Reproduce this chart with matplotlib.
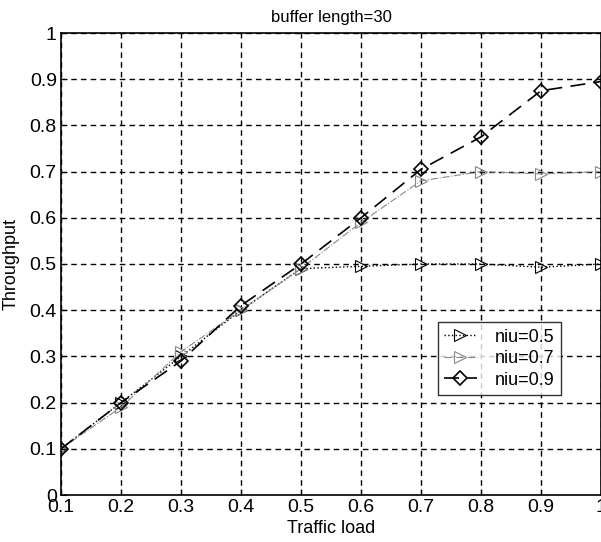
import matplotlib
matplotlib.use('Agg')
import matplotlib.pyplot as plt

plt.rcParams['font.family'] = ['Liberation Sans', 'DejaVu Sans']

traffic_load = [0.1, 0.2, 0.3, 0.4, 0.5, 0.6, 0.7, 0.8, 0.9, 1.0]
niu_05 = [0.1, 0.2, 0.30, 0.40, 0.49, 0.495, 0.50, 0.50, 0.493, 0.50]
niu_07 = [0.1, 0.19, 0.31, 0.40, 0.49, 0.59, 0.68, 0.70, 0.695, 0.70]
niu_09 = [0.1, 0.20, 0.29, 0.41, 0.50, 0.60, 0.705, 0.775, 0.875, 0.895]
labels = ['niu=0.5', 'niu=0.7', 'niu=0.9']
x_ticks = [0.1, 0.2, 0.3, 0.4, 0.5, 0.6, 0.7, 0.8, 0.9, 1.0]
x_tick_labels = ['0.1', '0.2', '0.3', '0.4', '0.5', '0.6', '0.7', '0.8', '0.9', '1']
y_ticks = [0, 0.1, 0.2, 0.3, 0.4, 0.5, 0.6, 0.7, 0.8, 0.9, 1.0]
y_tick_labels = ['0', '0.1', '0.2', '0.3', '0.4', '0.5', '0.6', '0.7', '0.8', '0.9', '1']

fig = plt.figure(figsize=(6.01, 5.42), dpi=100)
ax = fig.add_axes([61 / 601, 47 / 542, 540 / 601, 462 / 542])

ax.plot(traffic_load, niu_05, color='black', ls=':', lw=1.0,
        marker='>', ms=8, mfc='none', mec='black', mew=0.8, label=labels[0])
ax.plot(traffic_load, niu_07, color='#888888', ls='-.', lw=0.8,
        marker='>', ms=8, mfc='none', mec='#888888', mew=0.8, label=labels[1])
ax.plot(traffic_load, niu_09, color='black', ls=(0, (9, 5)), lw=1.2,
        marker='D', ms=7, mfc='none', mec='black', mew=1.2, label=labels[2])

ax.set_xlim(0.1, 1.0)
ax.set_ylim(0, 1)
ax.set_xticks(x_ticks)
ax.set_xticklabels(x_tick_labels)
ax.set_yticks(y_ticks)
ax.set_yticklabels(y_tick_labels)
ax.tick_params(direction='in', labelsize=14, length=4, pad=3)
ax.grid(True, color='black', ls=(0, (4, 3)), lw=1.0)
for s in ax.spines.values():
    s.set_linewidth(1.2)

ax.set_title('buffer length=30', fontsize=12, pad=8)
ax.set_xlabel('Traffic load', fontsize=13, labelpad=3)
ax.set_ylabel('Throughput', fontsize=13, labelpad=7)

leg = ax.legend(loc='upper left', bbox_to_anchor=(0.698, 0.374), fontsize=13,
                frameon=True, fancybox=False, edgecolor='black', borderaxespad=0,
                handlelength=1.8, borderpad=0.35, labelspacing=0.25, handletextpad=1.0)
leg.get_frame().set_linewidth(1.0)

fig.savefig('out.png', dpi=100)
